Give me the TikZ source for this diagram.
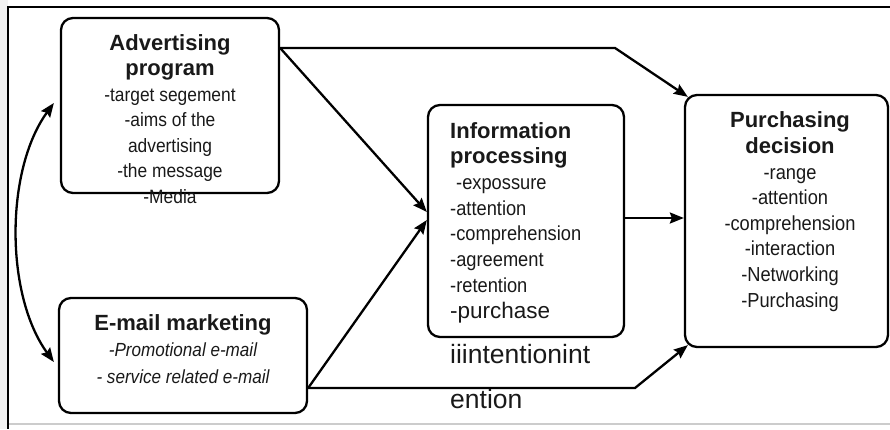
\documentclass[tikz,border=0pt]{standalone}
\usepackage{fontspec}
\setmainfont{Liberation Sans}
\newfontfamily\narrowfont[FakeStretch=0.9]{Liberation Sans}
\usetikzlibrary{arrows.meta}
\begin{document}
\begin{tikzpicture}[x=1pt,y=-1pt,
  box/.style={draw, line width=2.3pt, rounded corners=12pt, inner sep=0pt},
  conn/.style={line width=2.3pt, -{Stealth[length=14pt,width=11pt,inset=2pt]}},
  txt/.style={inner sep=0pt, text=black!90},
]
\useasboundingbox (0,0) rectangle (890,429);
\fill[gray!10] (0,0) rectangle (8,429);
\draw[gray!40, line width=1.5pt] (8,424) -- (890,424);
\draw[line width=2.6pt] (890,7) -- (8,7) -- (8,429);

% boxes
\node[box, minimum width=218pt, minimum height=175pt] (adv) at (170,105.5) {};
\node[box, minimum width=248pt, minimum height=115pt] (email) at (183,355.5) {};
\node[box, minimum width=196pt, minimum height=232pt] (info) at (526,221) {};
\node[box, minimum width=203pt, minimum height=252pt] (purch) at (786.5,221) {};

% texts (anchor base = baseline of the last line)
\node[txt, align=center, anchor=base, font=\narrowfont\fontsize{19.3}{25.5}\selectfont] (advtext) at (170,203)
  {{\rmfamily\fontsize{22}{25}\selectfont\bfseries Advertising}\\
   {\rmfamily\fontsize{22}{25}\selectfont\bfseries program}\\
   -target segement\\ -aims of the\\ advertising\\ -the message\\ -Media};
\node[txt, align=center, anchor=base, font=\narrowfont\fontsize{19}{26.5}\selectfont] (emailtext) at (183,383)
  {{\rmfamily\fontsize{22}{25}\selectfont\bfseries E-mail marketing}\\
   \itshape -Promotional e-mail\\ \itshape - service related e-mail};
\node[txt, align=left, anchor=base west, font=\narrowfont\fontsize{20.3}{25.7}\selectfont] (infotext) at (450,318)
  {{\rmfamily\fontsize{22}{25}\selectfont\bfseries Information}\\
   {\rmfamily\fontsize{22}{25}\selectfont\bfseries processing}\\
   \hspace{6pt}-expossure\\ -attention\\ -comprehension\\ -agreement\\ -retention\\
   {\rmfamily\fontsize{22.5}{25}\selectfont -purchase}};
\node[txt, align=center, anchor=base, font=\narrowfont\fontsize{20.3}{25.6}\selectfont] (purchtext) at (790,307)
  {{\rmfamily\fontsize{22}{25}\selectfont\bfseries Purchasing}\\
   {\rmfamily\fontsize{22}{25}\selectfont\bfseries decision}\\
   -range\\ -attention\\ -comprehension\\ -interaction\\ -Networking\\ -Purchasing};
\node[txt, anchor=base west, font=\fontsize{26.5}{30}\selectfont] (int1) at (450,363) {iiintentionint};
\node[txt, anchor=base west, font=\fontsize{26.5}{30}\selectfont] (int2) at (450,408) {ention};

% connector points
\coordinate (advout) at ([yshift=57.5pt]adv.east);
\coordinate (emailout) at ([yshift=-32.5pt]email.east);
\coordinate (turnA) at (615,48);
\coordinate (turnB) at (635,388);

\draw[conn] (advout) -- ([yshift=9pt]info.west);
\draw[conn] (advout) -- (turnA) -- ([shift={(4pt,-3pt)}]purch.north west);
\draw[conn] (emailout) -- ([yshift=1pt]info.west);
\draw[conn] (emailout) -- (turnB) -- ([shift={(4pt,3pt)}]purch.south west);
\draw[conn] ([yshift=3pt]info.east) -- ([yshift=3pt]purch.west);
\draw[line width=2.3pt, {Stealth[length=14pt,width=11pt,inset=2pt]}-{Stealth[length=14pt,width=11pt,inset=2pt]}]
  ([shift={(-6pt,2.5pt)}]adv.west) .. controls (5,170) and (5,295) .. ([shift={(-4pt,-6.5pt)}]email.west);
\end{tikzpicture}
\end{document}
